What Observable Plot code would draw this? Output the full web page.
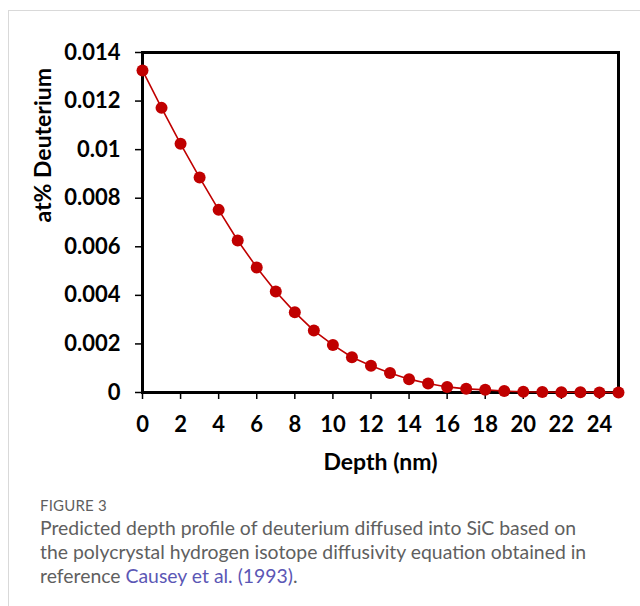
<!DOCTYPE html>
<html>
<head>
<meta charset="utf-8">
<script src="https://cdn.jsdelivr.net/npm/d3@7"></script>
<script src="https://cdn.jsdelivr.net/npm/@observablehq/plot@0.6"></script>
<style>
  html, body { margin: 0; padding: 0; background: #fff; }
  body { width: 640px; height: 606px; position: relative; overflow: hidden; }
  #card { position: absolute; left: 8px; top: 10px; right: -10px; bottom: -10px;
          border-top: 1.5px solid #d9d9d9; border-left: 1.5px solid #d9d9d9; }
  #chart { position: absolute; left: 0; top: 0; }
  #caption { position: absolute; left: 40px; top: 494px; width: 600px; white-space: nowrap;
             font-family: Lato, "Open Sans", sans-serif; color: #5f5f5f; }
  #caption .fig { font-size: 15px; letter-spacing: 0.2px; line-height: 22px; }
  #caption .txt { font-size: 19.4px; line-height: 24px; }
  #caption a { color: #5b57b5; text-decoration: none; }
</style>
</head>
<body>
<div id="card"></div>
<div id="chart"></div>
<div id="caption">
  <div class="fig">FIGURE 3</div>
  <div class="txt">Predicted depth profile of deuterium diffused into SiC based on<br>the polycrystal hydrogen isotope diffusivity equation obtained in<br>reference <a>Causey et al. (1993)</a>.</div>
</div>
<script>
const depth = [0,1,2,3,4,5,6,7,8,9,10,11,12,13,14,15,16,17,18,19,20,21,22,23,24,25];
const deuterium = [0.01326,0.01172,0.01024,0.00885,0.00752,0.00626,0.00515,0.00416,0.0033,0.00255,
                   0.00196,0.00145,0.0011,0.0008,0.00055,0.00037,0.00023,0.00015,0.00011,0.00006,
                   0.00003,0.00002,0.00001,0.00001,0.000005,0.000003];
const xTicks = [0,2,4,6,8,10,12,14,16,18,20,22,24];
const yTicks = [0,0.002,0.004,0.006,0.008,0.01,0.012,0.014];
const xLabel = "Depth (nm)";
const yLabel = "at% Deuterium";

const data = depth.map((d, i) => ({depth: d, value: deuterium[i]}));
const red = "#c00000";
const fmt = d => String(+d.toFixed(3));

const plot = Plot.plot({
  width: 640,
  height: 480,
  marginLeft: 142,
  marginRight: 22,
  marginTop: 52,
  marginBottom: 88,
  style: {fontFamily: "Lato, 'Open Sans', sans-serif", fontWeight: 700, fontSize: "22px", color: "#000", background: "transparent"},
  x: {domain: [0, 25], label: null},
  y: {domain: [0, 0.014], label: null},
  marks: [
    Plot.axisX({ticks: xTicks, tickSize: 7, tickPadding: 17, strokeWidth: 1.5, label: null, fontSize: 22, fontWeight: 700, fill: "#000"}),
    Plot.axisY({ticks: yTicks, tickSize: 7, tickPadding: 15, strokeWidth: 1.5, label: null, tickFormat: fmt, fontSize: 22, fontWeight: 700, fill: "#000"}),
    Plot.frame({stroke: "#000", strokeWidth: 3}),
    Plot.line(data, {x: "depth", y: "value", stroke: red, strokeWidth: 1.6}),
    Plot.dot(data, {x: "depth", y: "value", r: 6, fill: red, stroke: "none"}),
    Plot.text([xLabel], {frameAnchor: "bottom", dy: 77, fontSize: 23, fontWeight: 700, fill: "#000"}),
    Plot.text([yLabel], {frameAnchor: "left", dx: -99, rotate: -90, fontSize: 23, fontWeight: 700, fill: "#000"})
  ]
});
document.getElementById("chart").appendChild(plot);
</script>
</body>
</html>
